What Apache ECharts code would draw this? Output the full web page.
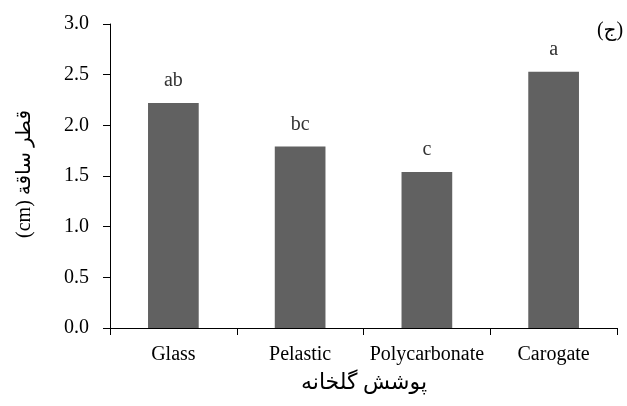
<!DOCTYPE html>
<html>
<head>
<meta charset="utf-8">
<script src="https://cdn.jsdelivr.net/npm/echarts@6/dist/echarts.min.js"></script>
<style>html,body{margin:0;padding:0;background:#fff;}#c{width:627px;height:406px;}</style>
</head>
<body>
<div id="c"></div>
<script>
const categories = ['Glass', 'Pelastic', 'Polycarbonate', 'Carogate'];
const values = [2.22, 1.79, 1.54, 2.53];
const letters = ['ab', 'bc', 'c', 'a'];
const yTicks = [0, 0.5, 1.0, 1.5, 2.0, 2.5, 3.0];

const serif = '"Liberation Serif", "Times New Roman", "DejaVu Serif", serif';
const chart = echarts.init(document.getElementById('c'), null, {renderer: 'canvas'});
chart.setOption({
  animation: false,
  grid: {left: 110, right: 10, top: 24, bottom: 78},
  xAxis: {
    type: 'category',
    data: categories,
    boundaryGap: true,
    axisLine: {lineStyle: {color: '#000', width: 1}},
    axisTick: {show: true, alignWithLabel: false, length: 7, lineStyle: {color: '#000'}},
    axisLabel: {color: '#000', fontFamily: serif, fontSize: 20, margin: 17, interval: 0, hideOverlap: false}
  },
  yAxis: {
    type: 'value',
    min: yTicks[0],
    max: yTicks[yTicks.length - 1],
    interval: 0.5,
    splitLine: {show: false},
    axisLine: {show: true, lineStyle: {color: '#000', width: 1}},
    axisTick: {show: true, length: 7, lineStyle: {color: '#000'}},
    axisLabel: {color: '#000', fontFamily: serif, fontSize: 20, margin: 21,
      formatter: v => v.toFixed(1)}
  },
  series: [{
    type: 'bar',
    data: values,
    barWidth: '40%',
    itemStyle: {color: '#616161'},
    label: {
      show: true, position: 'top', distance: 12,
      fontFamily: serif, fontSize: 20, color: '#333',
      formatter: p => letters[p.dataIndex]
    }
  }],
  graphic: [
    {type: 'text', x: 364, y: 383,
      style: {text: 'پوشش گلخانه', font: '22px "Liberation Serif", "DejaVu Sans", serif', fill: '#000', align: 'center', verticalAlign: 'middle'}},
    {type: 'text', x: 25, y: 174, rotation: Math.PI / 2,
      style: {text: '(cm) قطر ساقة', font: '20px "Liberation Serif", "DejaVu Sans", serif', fill: '#000', align: 'center', verticalAlign: 'middle'}},
    {type: 'text', x: 610, y: 31,
      style: {text: '(ج)', font: '20px "Liberation Serif", "DejaVu Sans", serif', fill: '#000', align: 'center', verticalAlign: 'middle'}}
  ]
});
</script>
</body>
</html>
